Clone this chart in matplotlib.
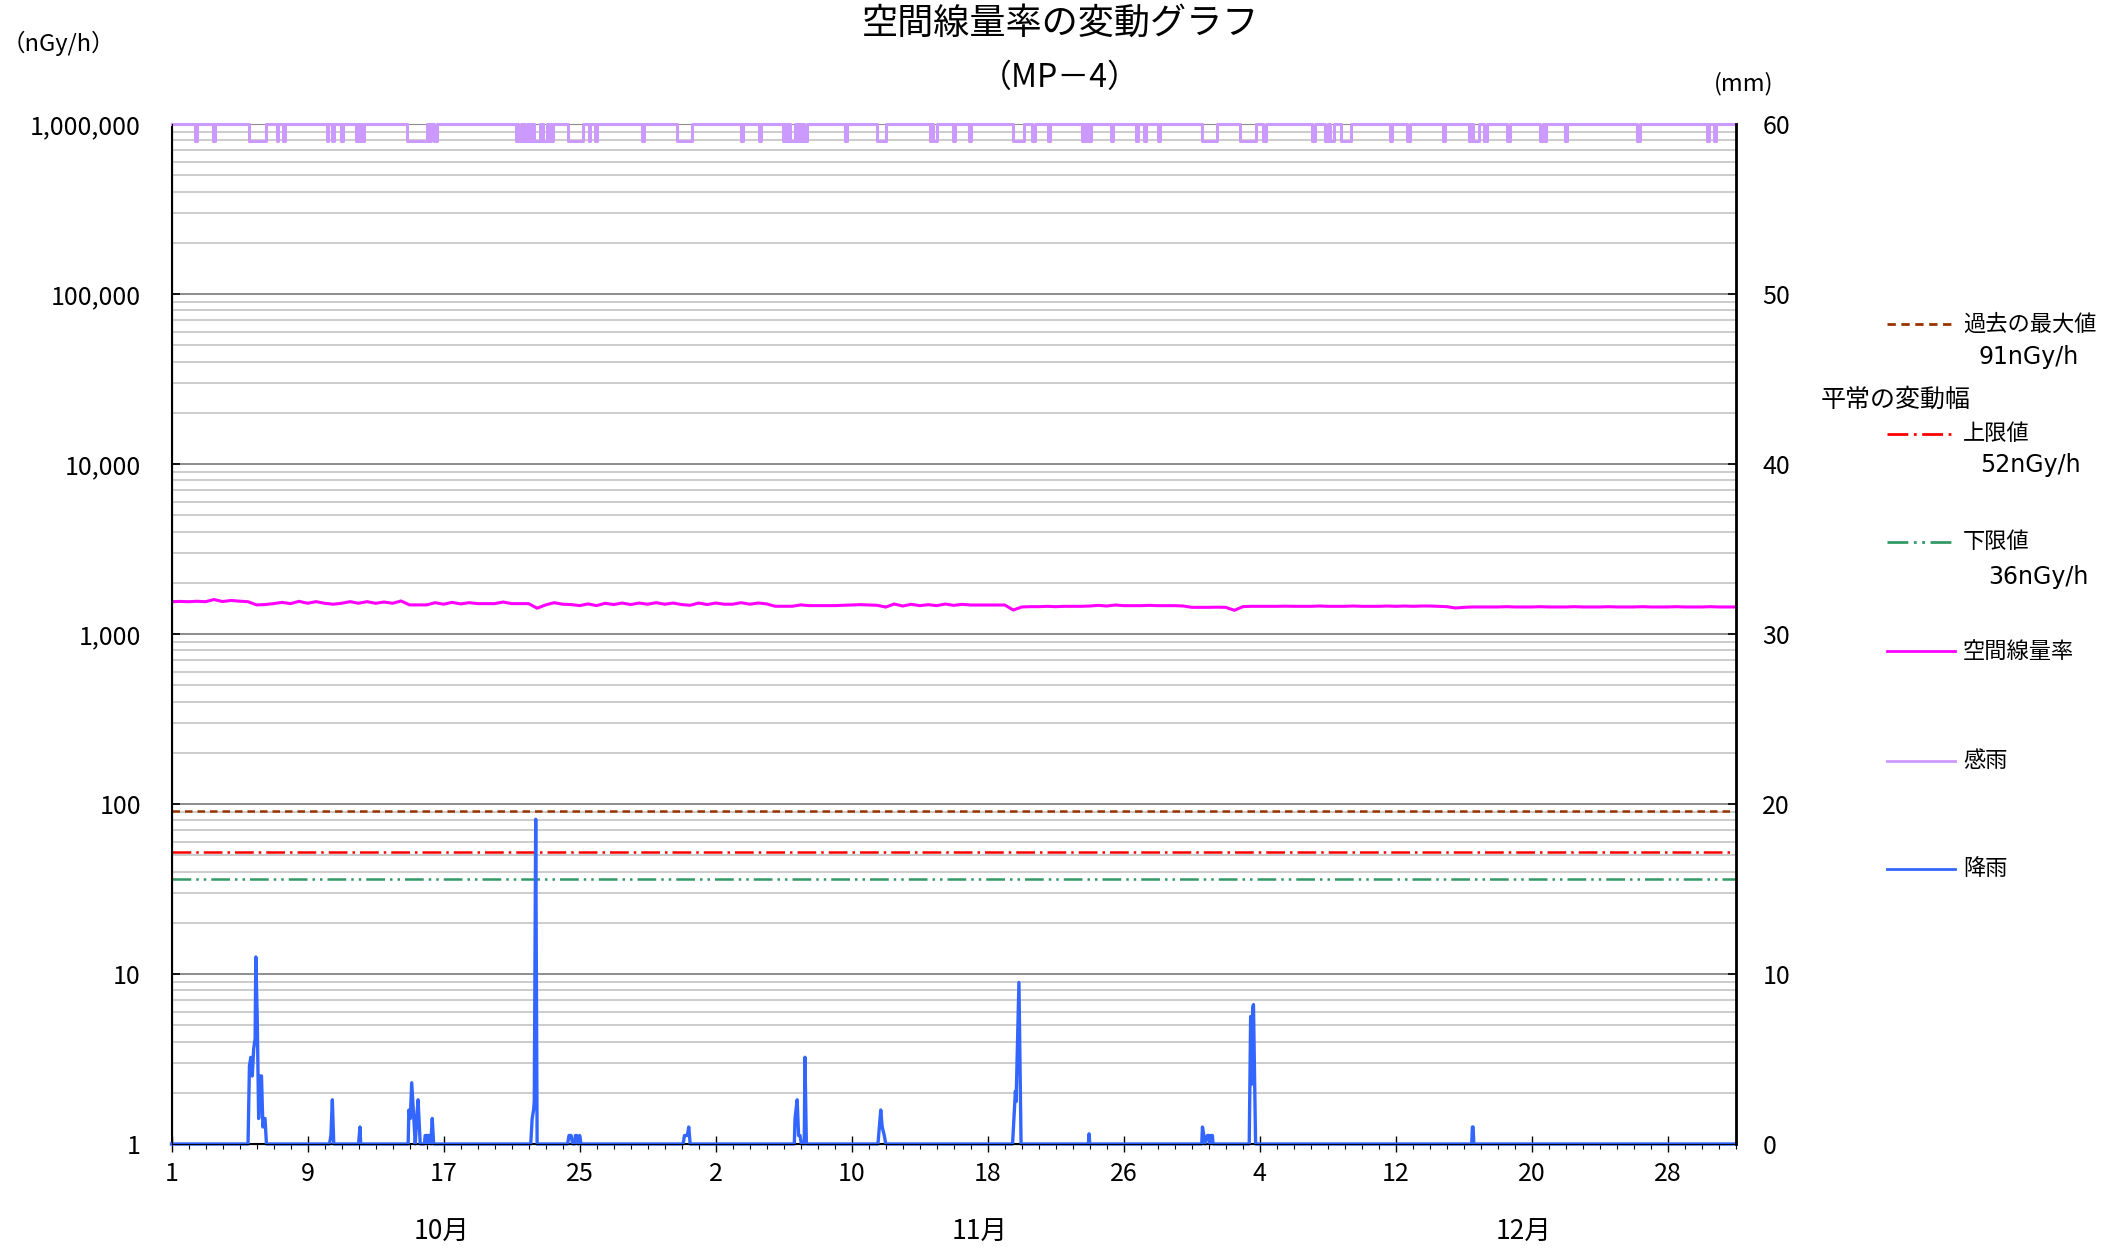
import numpy as np
import matplotlib
matplotlib.use("Agg")
import matplotlib.pyplot as plt
from matplotlib.lines import Line2D
from matplotlib.ticker import FixedLocator, MultipleLocator, NullFormatter, LogLocator

plt.rcParams['font.family'] = ['Noto Sans CJK JP', 'DejaVu Sans']

# x axis: days since Oct 1 00:00 (Oct 1 - Dec 31)
n_days = 92
day_labels = ['1', '9', '17', '25', '2', '10', '18', '26', '4', '12', '20', '28']
month_labels = ['10月', '11月', '12月']

# dose rate (nGy/h), one value every 12 hours
dose = [
    1549, 1555, 1549, 1558, 1549, 1595, 1552, 1575, 1560, 1549,
    1483, 1490, 1509, 1535, 1509, 1557, 1516, 1550, 1516, 1497,
    1516, 1550, 1516, 1550, 1516, 1542, 1516, 1564, 1483, 1483,
    1483, 1528, 1497, 1535, 1503, 1528, 1509, 1509, 1509, 1542,
    1509, 1509, 1509, 1418, 1483, 1528, 1497, 1490, 1469, 1503,
    1469, 1516, 1490, 1521, 1490, 1521, 1497, 1528, 1497, 1521,
    1490, 1476, 1521, 1490, 1521, 1497, 1497, 1528, 1497, 1521,
    1503, 1456, 1456, 1456, 1483, 1469, 1469, 1469, 1469, 1475,
    1480, 1488, 1481, 1475, 1440, 1501, 1461, 1495, 1468, 1488,
    1468, 1501, 1474, 1494, 1481, 1481, 1481, 1481, 1481, 1384,
    1442, 1448, 1448, 1455, 1448, 1455, 1455, 1455, 1461, 1474,
    1461, 1481, 1468, 1468, 1468, 1474, 1468, 1468, 1468, 1461,
    1435, 1435, 1435, 1438, 1435, 1378, 1448, 1455, 1455, 1455,
    1455, 1458, 1455, 1455, 1455, 1461, 1455, 1455, 1455, 1461,
    1455, 1455, 1455, 1461, 1455, 1461, 1455, 1461, 1461, 1455,
    1448, 1422, 1435, 1442, 1442, 1442, 1442, 1448, 1442, 1442,
    1442, 1448, 1442, 1442, 1442, 1448, 1442, 1442, 1442, 1448,
    1442, 1442, 1442, 1448, 1442, 1442, 1442, 1448, 1442, 1442,
    1442, 1448, 1442, 1442, 1442,
]

# rainfall (mm), hours since Oct 1 00:00
rain_hour = [
    108, 110, 112, 114, 116, 118, 119, 121, 123, 125, 127, 129, 131, 132, 134,
    223, 225, 227, 229,
    264, 266, 267,
    334, 335, 337, 339, 342, 344, 346, 348, 351, 357, 358, 360, 361, 362, 364, 366, 368, 370,
    507, 509, 511, 512, 514, 516,
    559, 561, 564, 566, 569, 570, 572, 574, 576, 578,
    722, 724, 728, 730, 732,
    879, 880, 883, 885, 887, 889, 893, 894, 896,
    997, 999, 1001, 1003, 1006, 1008,
    1187, 1191, 1192, 1196, 1199,
    1294, 1295, 1296,
    1454, 1455, 1457, 1459, 1462, 1464, 1466, 1467, 1469, 1470,
    1521, 1523, 1524, 1526, 1527, 1530,
    1835, 1836, 1837, 1838,
]
rain_mm = [
    0, 4.6, 5.1, 4.0, 5.6, 6.2, 11.0, 7.4, 1.5, 4.0, 4.0, 1.0, 1.5, 1.5, 0,
    0, 0.5, 2.6, 0,
    0, 1.0, 0,
    0, 2.0, 1.5, 3.6, 1.5, 0, 1.5, 2.6, 0, 0, 0.5, 0.5, 0, 0.5, 0.5, 0, 1.5, 0,
    0, 1.5, 2.0, 2.5, 19.1, 0,
    0, 0.5, 0.5, 0, 0, 0.5, 0.5, 0, 0.5, 0,
    0, 0.5, 0.5, 1.0, 0,
    0, 1.5, 2.6, 0.5, 0.5, 0, 0, 5.1, 0,
    0, 1.0, 2.0, 1.0, 0.5, 0,
    0, 3.1, 2.5, 9.5, 0,
    0, 0.6, 0,
    0, 1.0, 0.5, 0, 0.5, 0.5, 0, 0.5, 0.5, 0,
    0, 7.5, 3.5, 8.0, 8.2, 0,
    0, 1.0, 1.0, 0,
]

# rain sensor "on" periods (hours since Oct 1 00:00)
sense_on = [33, 59, 110, 149, 157, 219, 226, 239, 260, 263, 266, 269, 333, 363, 371,
            486, 489, 495, 498, 505, 508, 511, 521, 524, 531, 536, 560, 589, 598, 664,
            713, 804, 829, 863, 866, 870, 873, 881, 885, 889, 893, 951, 996, 1070, 1075,
            1103, 1126, 1187, 1215, 1237, 1285, 1288, 1291, 1295, 1326, 1361, 1372, 1392,
            1454, 1508, 1541, 1610, 1628, 1635, 1650, 1720, 1744, 1794, 1831, 1834, 1837,
            1853, 1885, 1932, 1937, 1966, 2068, 2167, 2177]
sense_off = [36, 62, 133, 151, 160, 221, 229, 242, 262, 265, 268, 272, 360, 366, 374,
             488, 493, 497, 502, 507, 510, 520, 523, 530, 534, 538, 581, 591, 600, 667,
             734, 807, 832, 865, 869, 872, 880, 883, 887, 890, 897, 954, 1008, 1073, 1081,
             1106, 1129, 1203, 1218, 1240, 1287, 1290, 1294, 1298, 1329, 1364, 1375, 1395,
             1476, 1531, 1544, 1614, 1632, 1640, 1665, 1723, 1748, 1797, 1833, 1836, 1845,
             1856, 1889, 1935, 1940, 1970, 2072, 2170, 2180]

max_past = 91
upper = 52
lower = 36

W, H = 2118, 1252
fig = plt.figure(figsize=(W / 100, H / 100), dpi=100)
ax = fig.add_axes([171.5 / W, 1 - 1144 / H, (1736 - 171.5) / W, (1144 - 124) / H])


def fx(px):
    return px / W


def fy(py):
    return 1 - py / H


# left axis (log, nGy/h)
ax.set_yscale('log')
ax.set_ylim(1, 1e6)
ax.set_xlim(0, n_days)
ax.yaxis.set_major_locator(FixedLocator([1, 10, 100, 1e3, 1e4, 1e5, 1e6]))
ax.set_yticklabels(['1', '10', '100', '1,000', '10,000', '100,000', '1,000,000'])
ax.yaxis.set_minor_locator(LogLocator(base=10, subs=np.arange(2, 10)))
ax.yaxis.set_minor_formatter(NullFormatter())
ax.grid(True, axis='y', which='major', color='#8c8c8c', lw=1.4)
ax.grid(True, axis='y', which='minor', color='#c4c4c4', lw=1.2)
ax.set_axisbelow(True)

ax.tick_params(axis='y', which='major', direction='in', length=6, width=1.2,
               pad=22, labelsize=18, right=False)
ax.tick_params(axis='y', which='minor', length=0, right=False)

ax.xaxis.set_major_locator(FixedLocator(np.arange(0, n_days, 8)))
ax.set_xticklabels(day_labels)
ax.xaxis.set_minor_locator(FixedLocator(np.arange(0, n_days + 1, 1)))
ax.tick_params(axis='x', which='major', direction='inout', length=11, width=1.0,
               pad=7, labelsize=18)
ax.tick_params(axis='x', which='minor', direction='out', length=3.5, width=0.8)

for s in ['left', 'bottom']:
    ax.spines[s].set_color('black')
    ax.spines[s].set_linewidth(1.5)
ax.spines['top'].set_color('#8c8c8c')

# threshold lines
ax.plot([0, n_days], [max_past, max_past], color='#993300', lw=1.8, dashes=(3, 2))
ax.plot([0, n_days], [upper, upper], color='#ff0000', lw=1.8, dashes=(7.5, 2, 1, 2))
ax.plot([0, n_days], [lower, lower], color='#339966', lw=1.8, dashes=(7.5, 2, 1, 2, 1, 2))

# dose rate
t_dose = np.arange(len(dose)) * 0.5
ax.plot(t_dose, dose, color='#ff00ff', lw=2.2)

# right axis (mm)
ax2 = ax.twinx()
ax2.set_ylim(0, 60)
ax2.yaxis.set_major_locator(MultipleLocator(10))
ax2.tick_params(axis='y', direction='in', length=6, width=1.2, pad=19, labelsize=18)
ax2.spines['right'].set_color('black')
ax2.spines['right'].set_linewidth(2)
ax2.spines['top'].set_visible(False)

# rain sensor
sx, sy = [0], [60]
for s, e in zip(sense_on, sense_off):
    sx += [s, s, e, e]
    sy += [60, 59, 59, 60]
sx.append(n_days * 24)
sy.append(60)
ax2.plot(np.array(sx) / 24, sy, color='#cc99ff', lw=2.2, clip_on=False)

# rainfall
rx = np.array([0] + rain_hour + [n_days * 24]) / 24
ry = [0] + rain_mm + [0]
ax2.plot(rx, ry, color='#3366ff', lw=2.4, clip_on=False)

# month labels
for lab, pos in zip(month_labels, [15.9, 47.5, 79.5]):
    ax.text(pos, -0.0863, lab, transform=ax.get_xaxis_transform(),
            ha='center', va='center', fontsize=19)

# titles / units
fig.text(fx(1060), fy(24), '空間線量率の変動グラフ', ha='center', va='center', fontsize=26)
fig.text(fx(1060), fy(78), '（MP－4）', ha='center', va='center', fontsize=23)
fig.text(fx(2), fy(43), '（nGy/h）', ha='left', va='center', fontsize=17)
fig.text(fx(1714), fy(84), '(mm)', ha='left', va='center', fontsize=17)

# legend (manual, outside plot)
legend_items = [
    ('過去の最大値', 324, dict(color='#993300', dashes=(3, 2))),
    ('上限値', 433.6, dict(color='#ff0000', dashes=(7.5, 2, 1, 2))),
    ('下限値', 541.7, dict(color='#339966', dashes=(7.5, 2, 1, 2, 1, 2))),
    ('空間線量率', 651, dict(color='#ff00ff')),
    ('感雨', 760.5, dict(color='#cc99ff')),
    ('降雨', 868.6, dict(color='#3366ff')),
]
for lab, py, style in legend_items:
    fig.add_artist(Line2D([fx(1887), fx(1955)], [fy(py), fy(py)], lw=2, **style))
    fig.text(fx(1963), fy(py), lab, ha='left', va='center', fontsize=16)

fig.text(fx(1978), fy(356.6), '91nGy/h', ha='left', va='center', fontsize=17,
         family=['DejaVu Sans'])
fig.text(fx(1980), fy(464.7), '52nGy/h', ha='left', va='center', fontsize=17,
         family=['DejaVu Sans'])
fig.text(fx(1988), fy(576.8), '36nGy/h', ha='left', va='center', fontsize=17,
         family=['DejaVu Sans'])
fig.text(fx(1821), fy(400), '平常の変動幅', ha='left', va='center', fontsize=18)

plt.savefig('out.png', dpi=100)
